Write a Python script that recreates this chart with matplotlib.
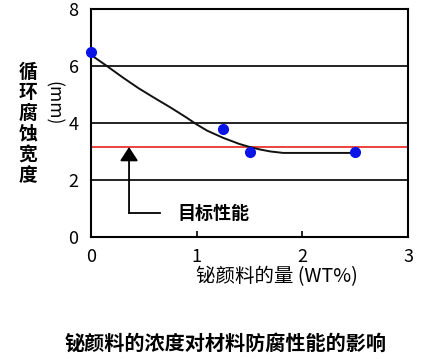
#!/usr/bin/env python3
"""Bismuth pigment amount vs. cyclic corrosion width."""

import matplotlib.pyplot as plt

plt.rcParams["font.family"] = ["Noto Sans CJK SC", "DejaVu Sans"]

# measured points
POINT_X = [0.0, 1.25, 1.5, 2.5]
POINT_Y = [6.5, 3.79, 3.0, 3.0]

# trend curve
CURVE_X = [0.0, 0.15, 0.3, 0.45, 0.6, 0.75, 0.9, 1.0, 1.1, 1.25, 1.4, 1.5, 1.6, 1.7, 1.82, 2.5]
CURVE_Y = [6.39, 6.0, 5.6, 5.22, 4.88, 4.55, 4.2, 3.95, 3.73, 3.48, 3.27, 3.16, 3.07, 3.0, 2.95, 2.95]

TARGET = 3.16
GRID_LINES = [2, 4, 6]
X_TICKS = [0, 1, 2, 3]
Y_TICKS = [0, 2, 4, 6, 8]

ARROW_X = 0.36
ARROW_BOTTOM = 0.84
ARROW_END_X = 0.65
TARGET_LABEL = "目标性能"
TARGET_LABEL_X = 0.82

Y_LABEL = "循\n环\n腐\n蚀\n宽\n度"
Y_UNIT = "(mm)"
X_LABEL = "铋颜料的量 (WT%)"
CAPTION = "铋颜料的浓度对材料防腐性能的影响"

W, H = 426, 359
fig = plt.figure(figsize=(W / 100, H / 100), dpi=100)
ax = fig.add_axes([91 / W, 1 - 237 / H, 317 / W, 228 / H])

for g in GRID_LINES:
    ax.axhline(g, color="#222222", linewidth=1.4, zorder=1)
ax.axhline(TARGET, color="#e8231f", linewidth=1.2, zorder=2)

ax.plot(CURVE_X, CURVE_Y, color="#111111", linewidth=1.4, zorder=3)
ax.plot(POINT_X, POINT_Y, "o", color="#0a14e6", markersize=7, zorder=4, clip_on=False)

ax.annotate(
    "",
    xy=(ARROW_X, TARGET),
    xytext=(ARROW_X, ARROW_BOTTOM),
    arrowprops=dict(arrowstyle="-|>,head_length=0.85,head_width=0.55", color="black",
                    linewidth=1.3, shrinkA=0, shrinkB=0),
    zorder=5,
)
ax.plot([ARROW_X, ARROW_END_X], [ARROW_BOTTOM, ARROW_BOTTOM], color="black", linewidth=1.3)
ax.text(TARGET_LABEL_X, ARROW_BOTTOM, TARGET_LABEL, fontsize=13, fontweight="bold",
        va="center", ha="left")

ax.set_xlim(0, 3)
ax.set_ylim(0, 8)
ax.set_xticks(X_TICKS)
ax.set_yticks(Y_TICKS)
ax.tick_params(axis="x", direction="in", length=4, width=1.2, pad=8, labelsize=13)
ax.tick_params(axis="y", length=0, pad=9, labelsize=13)
for spine in ax.spines.values():
    spine.set_linewidth(1.5)

fig.text(28 / W, 1 - 124 / H, Y_LABEL, fontsize=13.5, fontweight="bold",
         ha="center", va="center", linespacing=1.12)
fig.text(53 / W, 1 - 103 / H, Y_UNIT, fontsize=12.5, rotation=270,
         ha="center", va="center")
fig.text(277 / W, 1 - 277 / H, X_LABEL, fontsize=14, ha="center", va="center")
fig.text(226 / W, 1 - 343 / H, CAPTION, fontsize=14.5, fontweight="bold",
         ha="center", va="center")

fig.savefig("out.png", dpi=100)
